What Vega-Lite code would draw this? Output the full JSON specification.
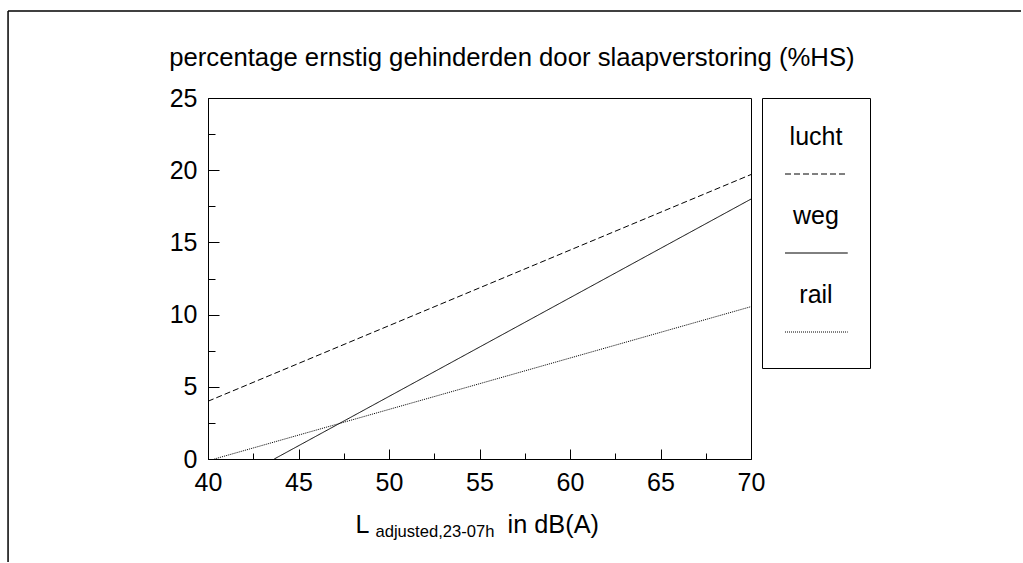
{
  "$schema": "https://vega.github.io/schema/vega-lite/v6.json",
  "padding": {"left": 6, "top": 9, "right": 0, "bottom": 0},
  "background": "white",
  "config": {
    "font": "Liberation Sans",
    "view": {"stroke": "black", "strokeWidth": 1},
    "axis": {
      "labelFont": "Liberation Sans",
      "labelFontSize": 25,
      "labelColor": "black",
      "tickColor": "black",
      "domainColor": "black",
      "grid": false,
      "labelFlush": false,
      "labelOverlap": false,
      "tickWidth": 1,
      "domainWidth": 1
    }
  },
  "spacing": 11,
  "bounds": "flush",
  "hconcat": [
    {
      "width": 543,
      "height": 361,
      "title": {
        "text": "percentage ernstig gehinderden door slaapverstoring (%HS)",
        "font": "Liberation Sans",
        "fontSize": 25.7,
        "fontWeight": "normal",
        "color": "black",
        "anchor": "start",
        "frame": "bounds",
        "baseline": "alphabetic",
        "offset": -6
      },
      "layer": [
        {
          "data": {
            "values": [
              {"bron": "lucht", "L": 40, "HS": 4.0},
              {"bron": "lucht", "L": 70, "HS": 19.7},
              {"bron": "weg", "L": 43.66, "HS": 0},
              {"bron": "weg", "L": 70, "HS": 18.0},
              {"bron": "rail", "L": 40.35, "HS": 0},
              {"bron": "rail", "L": 70, "HS": 10.55}
            ]
          },
          "mark": {"type": "line", "strokeWidth": 1, "color": "black", "clip": true},
          "encoding": {
            "x": {
              "field": "L", "type": "quantitative",
              "scale": {"domain": [40, 70], "nice": false, "zero": false},
              "axis": {"orient": "bottom", "values": [40, 45, 50, 55, 60, 65, 70], "tickSize": -10, "labelPadding": 21, "title": null}
            },
            "y": {
              "field": "HS", "type": "quantitative",
              "scale": {"domain": [0, 25], "nice": false, "zero": false},
              "axis": {"orient": "left", "values": [0, 5, 10, 15, 20, 25], "tickSize": -11, "labelPadding": 22, "title": null}
            },
            "strokeDash": {
              "field": "bron", "type": "nominal",
              "scale": {"domain": ["lucht", "weg", "rail"], "range": [[6, 3], [1, 0], [1, 1]]},
              "legend": null
            }
          }
        },
        {
          "data": {"values": [{}]},
          "mark": {"type": "text", "text": "L", "fontSize": 25, "align": "left", "baseline": "alphabetic", "clip": false, "color": "black", "font": "Liberation Sans"},
          "encoding": {
            "x": {
              "datum": 48.15, "type": "quantitative",
              "scale": {"domain": [40, 70], "nice": false, "zero": false},
              "axis": {"orient": "bottom", "values": [42.5, 47.5, 52.5, 57.5, 62.5, 67.5], "tickSize": -6, "labels": false, "domain": false, "title": null}
            },
            "y": {
              "datum": -5.12, "type": "quantitative",
              "scale": {"domain": [0, 25], "nice": false, "zero": false},
              "axis": {"orient": "left", "values": [2.5, 7.5, 12.5, 17.5, 22.5], "tickSize": -7, "labels": false, "domain": false, "title": null}
            }
          }
        },
        {
          "data": {"values": [{}]},
          "mark": {"type": "text", "text": "adjusted,23-07h", "fontSize": 16.6, "align": "left", "baseline": "alphabetic", "clip": false, "color": "black", "font": "Liberation Sans"},
          "encoding": {
            "x": {"datum": 49.25, "type": "quantitative", "scale": {"domain": [40, 70], "nice": false, "zero": false}, "axis": null},
            "y": {"datum": -5.4, "type": "quantitative", "scale": {"domain": [0, 25], "nice": false, "zero": false}, "axis": null}
          }
        },
        {
          "data": {"values": [{}]},
          "mark": {"type": "text", "text": "in dB(A)", "fontSize": 25.3, "align": "left", "baseline": "alphabetic", "clip": false, "color": "black", "font": "Liberation Sans"},
          "encoding": {
            "x": {"datum": 56.55, "type": "quantitative", "scale": {"domain": [40, 70], "nice": false, "zero": false}, "axis": null},
            "y": {"datum": -5.12, "type": "quantitative", "scale": {"domain": [0, 25], "nice": false, "zero": false}, "axis": null}
          }
        }
      ],
      "resolve": {"axis": {"x": "independent", "y": "independent"}}
    },
    {
      "width": 108,
      "height": 270,
      "layer": [
        {
          "data": {"values": [{"bron": "lucht"}, {"bron": "weg"}, {"bron": "rail"}]},
          "mark": {"type": "text", "fontSize": 25, "align": "center", "baseline": "alphabetic", "dy": -29, "color": "black", "font": "Liberation Sans"},
          "encoding": {
            "x": {"datum": 0.5, "type": "quantitative", "scale": {"domain": [0, 1], "nice": false, "zero": false}, "axis": null},
            "y": {"field": "bron", "type": "nominal", "scale": {"type": "point", "domain": ["lucht", "weg", "rail"], "range": [76, 234], "padding": 0}, "axis": null},
            "text": {"field": "bron", "type": "nominal"}
          }
        },
        {
          "data": {"values": [{"bron": "lucht"}, {"bron": "weg"}, {"bron": "rail"}]},
          "mark": {"type": "rule", "strokeWidth": 1, "color": "black"},
          "encoding": {
            "x": {"datum": 0.213, "type": "quantitative", "scale": {"domain": [0, 1], "nice": false, "zero": false}, "axis": null},
            "x2": {"datum": 0.794},
            "y": {"field": "bron", "type": "nominal", "scale": {"type": "point", "domain": ["lucht", "weg", "rail"], "range": [76, 234], "padding": 0}, "axis": null},
            "strokeDash": {
              "field": "bron", "type": "nominal",
              "scale": {"domain": ["lucht", "weg", "rail"], "range": [[4, 2], [1, 0], [1, 1]]},
              "legend": null
            }
          }
        },
        {
          "data": {"values": [{}]},
          "mark": {"type": "rule", "strokeWidth": 1.5, "color": "black", "clip": false},
          "encoding": {
            "x": {"datum": -6.981, "type": "quantitative", "scale": {"domain": [0, 1], "nice": false, "zero": false}, "axis": null},
            "x2": {"datum": 2.398},
            "y": {"datum": 1.3222, "type": "quantitative", "scale": {"domain": [0, 1], "nice": false, "zero": false}, "axis": null}
          }
        },
        {
          "data": {"values": [{}]},
          "mark": {"type": "rule", "strokeWidth": 1.5, "color": "black", "clip": false},
          "encoding": {
            "x": {"datum": -6.981, "type": "quantitative", "scale": {"domain": [0, 1], "nice": false, "zero": false}, "axis": null},
            "y": {"datum": 1.3222, "type": "quantitative", "scale": {"domain": [0, 1], "nice": false, "zero": false}, "axis": null},
            "y2": {"datum": -0.7185}
          }
        }
      ],
      "resolve": {"scale": {"y": "independent"}}
    }
  ]
}
